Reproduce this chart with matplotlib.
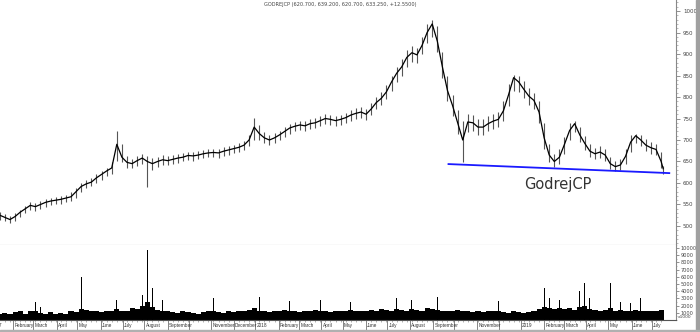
import numpy as np
import pandas as pd
import matplotlib
matplotlib.use("Agg")
import matplotlib.pyplot as plt
from matplotlib.ticker import MultipleLocator, FixedLocator, NullFormatter
from matplotlib.patches import Rectangle
import matplotlib.transforms as mtransforms

# ---------------- data ----------------
title = "GODREJCP (620.700, 639.200, 620.700, 633.250, +12.5500)"
label_text = "GodrejCP"

week_start = "2017-01-13"
last_date = "2019-07-16"

# weekly closes
closes = [525, 520, 515, 522, 532, 540, 548, 545, 550, 555,
          558, 560, 562, 565, 568, 580, 592, 598, 602, 612,
          620, 628, 635, 690, 660, 648, 645, 652, 658, 650,
          645, 650, 654, 652, 655, 658, 660, 664, 663, 665,
          668, 670, 671, 670, 674, 677, 680, 683, 688, 700,
          730, 715, 705, 700, 705, 712, 720, 728, 732, 735,
          733, 738, 740, 745, 750, 748, 745, 748, 752, 758,
          762, 765, 760, 772, 787, 797, 812, 835, 855, 870,
          892, 903, 898, 920, 950, 970, 930, 870, 815, 780,
          740, 700, 742, 740, 730, 730, 738, 744, 748, 768,
          805, 845, 835, 818, 802, 792, 765, 705, 665, 650,
          660, 690, 722, 738, 712, 692, 674, 668, 672, 665,
          645, 638, 642, 662, 695, 710, 700, 688, 682, 678,
          650]
lows = [515, 512, 508, 512, 520, 530, 538, 536, 540, 545,
        549, 551, 552, 555, 558, 566, 578, 588, 592, 600,
        608, 616, 622, 650, 648, 636, 634, 640, 645, 590,
        630, 638, 642, 641, 644, 647, 650, 653, 652, 655,
        657, 660, 660, 659, 663, 666, 669, 672, 676, 686,
        700, 700, 692, 688, 693, 700, 708, 715, 720, 723,
        721, 726, 728, 733, 738, 736, 733, 736, 740, 745,
        750, 752, 746, 758, 772, 782, 796, 815, 835, 850,
        870, 882, 878, 900, 925, 940, 905, 845, 790, 755,
        715, 648, 718, 720, 712, 712, 720, 726, 730, 745,
        780, 815, 812, 798, 782, 772, 740, 680, 648, 638,
        645, 668, 700, 718, 695, 676, 660, 655, 658, 650,
        632, 628, 630, 645, 672, 692, 686, 675, 668, 664,
        635]
highs = [532, 528, 524, 530, 538, 547, 556, 553, 557, 562,
         566, 568, 570, 572, 578, 588, 600, 607, 612, 620,
         628, 636, 648, 722, 690, 662, 656, 662, 668, 662,
         658, 660, 664, 662, 665, 667, 669, 673, 672, 674,
         677, 679, 680, 679, 683, 686, 689, 692, 698, 712,
         752, 735, 718, 712, 716, 722, 730, 738, 742, 745,
         744, 748, 751, 756, 761, 759, 756, 759, 763, 770,
         774, 777, 772, 785, 800, 812, 828, 850, 870, 888,
         910, 918, 915, 940, 970, 980, 965, 905, 850, 805,
         770, 745, 760, 758, 748, 748, 755, 760, 765, 790,
         830, 852, 850, 838, 820, 810, 790, 740, 690, 668,
         680, 708, 740, 745, 730, 710, 690, 682, 686, 678,
         660, 650, 655, 680, 712, 715, 712, 702, 695, 690,
         672]
last_close = 633.25
last_low = 620.7
last_high = 639.2

# support line (date, price)
support_dates = ["2018-09-24", "2019-07-24"]
support_prices = [644, 623]

# weekly typical volume
vol_base = [900, 1000, 800, 1100, 1200, 900, 1300, 1200, 1000, 900,
            1100, 800, 1000, 900, 1200, 1100, 1500, 1400, 1300, 1200,
            1100, 1200, 1300, 1500, 1200, 1300, 1600, 1500, 2000, 2500,
            1800, 1400, 1300, 1200, 1100, 1000, 1200, 1100, 1000, 900,
            1100, 1200, 1300, 1100, 1000, 1200, 1100, 1200, 1300, 1400,
            1600, 1300, 1200, 1100, 1300, 1200, 1400, 1300, 1200, 1100,
            1300, 1200, 1400, 1300, 1200, 1100, 1200, 1300, 1200, 1400,
            1300, 1200, 1300, 1400, 1300, 1500, 1400, 1300, 1500, 1400,
            1300, 1500, 1400, 1300, 1600, 1500, 1400, 1300, 1200, 1300,
            1400, 1300, 1200, 1100, 1200, 1100, 1200, 1300, 1200, 1100,
            1000, 1200, 1100, 1000, 1100, 1200, 1500, 1800, 1600, 1500,
            1700, 1500, 1600, 1400, 1800, 1900, 1500, 1400, 1300, 1400,
            1600, 1300, 1400, 1200, 1300, 1400, 1200, 1300, 1200, 1300,
            1400]
# volume spikes (week number, volume)
spike_weeks = [7, 8, 16, 23, 28, 29, 30, 32, 42, 51, 57, 63, 69, 78, 81,
               86, 98, 107, 108, 110, 114, 115, 116, 120, 122, 124, 126]
spike_vols = [2500, 1800, 6000, 2800, 3500, 9700, 4500, 2800, 3000, 3200,
              2600, 2800, 2500, 3000, 2800, 3200, 2600, 4500, 3000, 2800,
              4000, 5200, 3000, 5100, 2500, 2400, 3000]

month_names = ["January", "February", "March", "April", "May", "June", "July",
               "August", "September", "October", "November", "December"]
hidden_months = ["2017-10", "2018-10", "2018-12"]

# ---------------- helpers ----------------
origin = np.datetime64("2017-01-02")


def bidx(d):
    return np.busday_count(origin, np.datetime64(pd.Timestamp(d).date()))


wdates = pd.date_range(week_start, periods=len(closes), freq="W-FRI")
wx = np.array([bidx(d) for d in wdates], dtype=float)
px = np.append(wx, bidx(last_date))
py = np.append(np.array(closes, float), last_close)
plo = np.append(np.array(lows, float), last_low)
phi = np.append(np.array(highs, float), last_high)

fig = plt.figure(figsize=(7.0, 3.32), dpi=100)
W, H = 700, 332
ax = fig.add_axes([0, (H - 245) / H, 676 / W, 245 / H])
axv = fig.add_axes([0, (H - 320) / H, 676 / W, 75 / H], sharex=ax)

# price
ax.vlines(px, plo, phi, color="#555555", lw=0.8, zorder=2)
ax.plot(px, py, color="black", lw=0.9, zorder=3)
ax.plot([bidx(d) for d in support_dates], support_prices, color="#1a1aff",
        lw=1.3, zorder=4)
ax.text(bidx("2019-02-20"), 597, label_text, fontsize=10.5, color="#333333",
        ha="center", va="center", family="DejaVu Sans")

ax.set_ylim(455.8, 1025.6)
ax.set_xlim(9.2, 673.6)
ax.yaxis.tick_right()
ax.set_yticks(np.arange(500, 1001, 50))
ax.yaxis.set_minor_locator(MultipleLocator(10))
ax.tick_params(axis="y", which="major", length=3, width=0.5, colors="#666666",
               labelsize=4, labelcolor="#444444", pad=2)
ax.tick_params(axis="y", which="minor", length=1.5, width=0.4, colors="#888888")
ax.tick_params(axis="x", which="both", bottom=False, labelbottom=False)
for s in ["left", "top"]:
    ax.spines[s].set_visible(False)
ax.spines["right"].set_color("#888888")
ax.spines["right"].set_linewidth(0.8)
ax.spines["bottom"].set_color("#999999")
ax.spines["bottom"].set_linewidth(0.8)

fig.text(340 / W, 1 - 4.5 / H, title, fontsize=3.6, color="#444444",
         ha="center", va="center")

# volume
axv.bar(wx, vol_base, width=5.0, color="black", align="center", zorder=2)
axv.bar(wx[spike_weeks], spike_vols, width=0.9, color="black", zorder=3)
axv.set_ylim(0, 10417)
axv.yaxis.tick_right()
axv.set_yticks(np.arange(1000, 10001, 1000))
axv.yaxis.set_minor_locator(MultipleLocator(500))
axv.tick_params(axis="y", which="major", length=2, width=0.5, colors="#666666",
                labelsize=3.6, labelcolor="#444444", pad=1.5)
axv.tick_params(axis="y", which="minor", length=1, width=0.4, colors="#888888")
for s in ["left", "top"]:
    axv.spines[s].set_visible(False)
axv.spines["right"].set_color("#888888")
axv.spines["right"].set_linewidth(0.8)
axv.spines["bottom"].set_color("#555555")
axv.spines["bottom"].set_linewidth(0.8)
axv.text(1.003, 0.02, "x1000", transform=axv.transAxes, fontsize=3.2,
         color="#444444", ha="left", va="bottom")

# month ticks and labels
mstarts = pd.date_range("2017-01-01", "2019-07-01", freq="MS")
mx = [bidx(pd.offsets.BDay().rollforward(d)) for d in mstarts]
axv.xaxis.set_major_locator(FixedLocator(mx))
axv.xaxis.set_major_formatter(NullFormatter())
axv.xaxis.set_minor_locator(FixedLocator(wx))
axv.tick_params(axis="x", which="major", length=8, width=0.5, colors="#555555")
axv.tick_params(axis="x", which="minor", length=1.5, width=0.4, colors="#777777")
trans = mtransforms.blended_transform_factory(axv.transData, axv.transAxes)
for d, x in zip(mstarts, mx):
    if d.strftime("%Y-%m") in hidden_months:
        continue
    lab = str(d.year) if d.month == 1 else month_names[d.month - 1]
    axv.text(x + 1.2, -0.04, lab, transform=trans, fontsize=3.4,
             family=["Liberation Sans Narrow", "Liberation Sans"],
             color="#333333", ha="left", va="top", clip_on=False)

# frame shadows
fig.patches.append(Rectangle((696 / W, 0), 4 / W, 1, transform=fig.transFigure,
                             color="#a0a0a0", zorder=0))
fig.patches.append(Rectangle((0, 0), 700 / W, 2.5 / H, transform=fig.transFigure,
                             color="#b0b0b0", zorder=0))

fig.savefig("out.png", dpi=100, facecolor="white")
